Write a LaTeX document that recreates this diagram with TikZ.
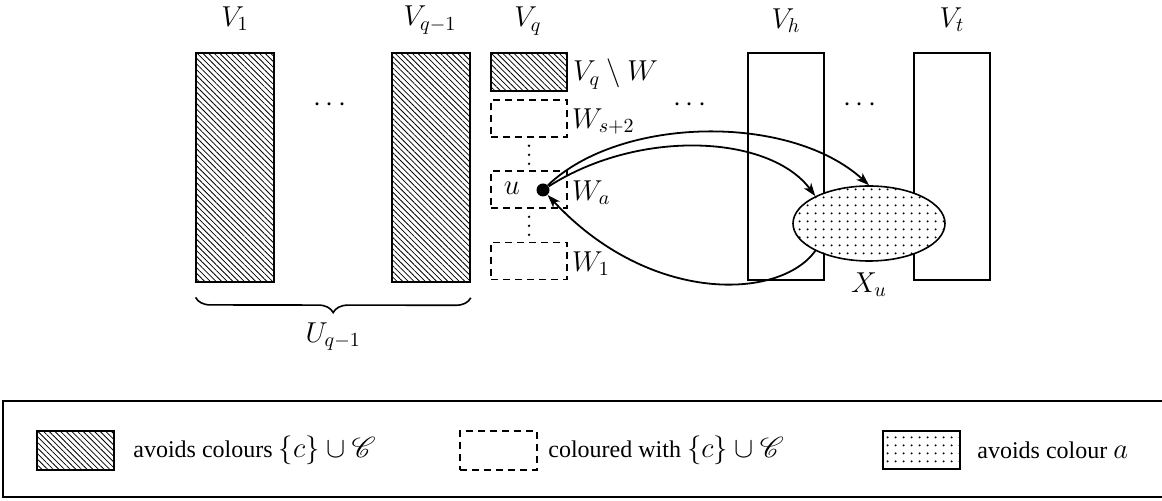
\documentclass[tikz,border=0pt]{standalone}
\usepackage{mathrsfs}
\usepackage{fontspec}
\setmainfont{Liberation Serif}
\usetikzlibrary{patterns,patterns.meta,decorations.pathreplacing,shapes.geometric,arrows.meta}
\tikzset{
  box/.style={draw, line width=0.8pt, inner sep=0pt, minimum width=39pt},
  hatch/.style={pattern={Lines[angle=-45,distance=2pt,line width=0.4pt]}},
  dotfill/.style={preaction={fill=white}, pattern={Dots[distance=4pt,radius=0.6pt]}},
  dbox/.style={draw, line width=0.8pt, dash pattern=on 3.5pt off 2.5pt, inner sep=0pt, minimum width=38pt, minimum height=18.5pt},
  arr/.style={line width=0.9pt, -{Stealth[length=6.5pt,width=4.5pt,inset=1.8pt]}},
  dotline/.style={line width=1.3pt, line cap=round, dash pattern=on 0pt off 4.5pt, shorten <=4pt, shorten >=2pt},
  lbl/.style={inner sep=0pt},
  legtext/.style={inner sep=0pt, anchor=west, font=\fontsize{12}{14}\selectfont},
}
\newcommand{\mysetC}{{\fontsize{15.5}{17}\selectfont$\{c\}\cup\mathscr{C}$}}
\begin{document}
\begin{tikzpicture}[x=0.5pt,y=-0.5pt,font=\fontsize{14.5}{17}\selectfont]
\useasboundingbox (0,0) rectangle (1162,501);
% column labels
\node[lbl] (l1) at (235,19) {$V_1$};
\node[lbl] (lq1) at (430,20) {$V_{q-1}$};
\node[lbl] (lq) at (528,21) {$V_q$};
\node[lbl] (lh) at (786,21) {$V_h$};
\node[lbl] (lt) at (952,20) {$V_t$};
% big rectangles
\node[box,hatch,minimum height=114.5pt] (v1) at (235,167.5) {};
\node[box,hatch,minimum height=114.5pt] (vq1) at (431,167.5) {};
\node[box,minimum width=38pt,minimum height=113.5pt] (vh) at (786,166.5) {};
\node[box,minimum width=38pt,minimum height=113.5pt] (vt) at (952,166.5) {};
% dots
\node[lbl] (d1) at (330,105) {$\cdots$};
\node[lbl] (d2) at (690,105) {$\cdots$};
\node[lbl] (d3) at (860,105) {$\cdots$};
% V_q column
\node[box,hatch,minimum width=38pt,minimum height=19pt] (vqw) at (529,72) {};
\node[dbox] (ws) at (529,118.5) {};
\node[dbox] (wa) at (529,189.5) {};
\node[dbox] (w1) at (529,261) {};
\node[lbl,anchor=west] (tvqw) at ([xshift=2.5pt,yshift=-1pt]vqw.east) {$V_q\setminus W$};
\node[lbl,anchor=west] (tws) at ([xshift=2pt,yshift=-1.5pt]ws.east) {$W_{s+2}$};
\node[lbl,anchor=west] (twa) at ([xshift=2pt,yshift=-1.5pt]wa.east) {$W_a$};
\node[lbl,anchor=west] (tw1) at ([xshift=2pt,yshift=-1.5pt]w1.east) {$W_1$};
\draw[dotline] (ws.south) -- (wa.north);
\draw[dotline] (wa.south) -- (w1.north);
\node[lbl] (lu) at (512,188) {$u$};
\node[circle,fill,inner sep=0pt,minimum size=6.5pt] (u) at (543,190) {};
% X_u
\node[ellipse,draw,line width=0.8pt,dotfill,minimum width=76pt,minimum height=37.5pt,inner sep=0pt] (xu) at (869,223.5) {};
\node[lbl] (lxu) at (869,285) {$X_u$};
% arrows
\draw[arr] (u) .. controls (640,128) and (770,135) .. (xu.153);
\draw[arr] (u) .. controls (620,116) and (790,113) .. (xu.north);
\draw[arr] (xu.207) .. controls (780,300) and (650,305) .. (u);
% brace
\draw[line width=0.8pt,decorate,decoration={brace,mirror,amplitude=7.5pt}] ([yshift=-7.5pt]v1.south west) -- ([yshift=-7.5pt]vq1.south east) node[midway,below=12pt,lbl] (lU) {$U_{q-1}$};
% legend
\draw[line width=1pt] (3,401) rectangle (1175,497);
\node[box,hatch,minimum width=38.5pt,minimum height=19.5pt] (kh) at (75.5,450.5) {};
\node[legtext] (th) at (133,450) {avoids colours \mysetC};
\node[dbox,minimum width=38.5pt,minimum height=19.5pt] (kd) at (498.5,450.5) {};
\node[legtext] (td) at (548,450) {coloured with \mysetC};
\node[box,dotfill,line width=1pt,minimum width=38.5pt,minimum height=19pt] (kp) at (921.5,450) {};
\node[legtext] (tp) at (977,450) {avoids colour {\fontsize{15.5}{17}\selectfont$a$}};
\end{tikzpicture}
\end{document}
